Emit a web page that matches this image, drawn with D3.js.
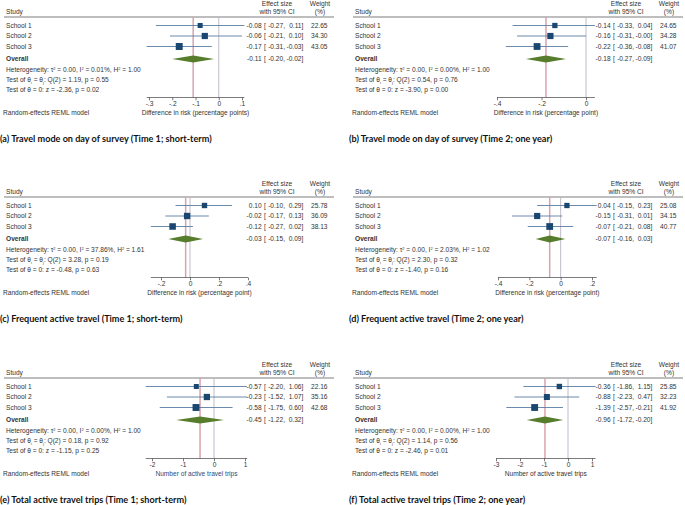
<!DOCTYPE html>
<html><head><meta charset="utf-8">
<script src="https://cdn.jsdelivr.net/npm/d3@7"></script>
<style>body{margin:0;background:#fff} svg{display:block}</style>
</head><body>
<svg id="c" width="685" height="505"></svg>
<script>
// ---------- data ----------
const captions = [
  "(a) Travel mode on day of survey (Time 1; short-term)",
  "(b) Travel mode on day of survey (Time 2; one year)",
  "(c) Frequent active travel (Time 1; short-term)",
  "(d) Frequent active travel (Time 2; one year)",
  "(e) Total active travel trips (Time 1; short-term)",
  "(f) Total active travel trips (Time 2; one year)"
];
const studies = ["School 1", "School 2", "School 3"];
const effects = [[-0.08,-0.06,-0.17],[-0.14,-0.16,-0.22],[0.10,-0.02,-0.12],[0.04,-0.15,-0.07],[-0.57,-0.23,-0.58],[-0.36,-0.88,-1.39]];
const lowers  = [[-0.27,-0.21,-0.31],[-0.33,-0.31,-0.36],[-0.10,-0.17,-0.27],[-0.15,-0.31,-0.21],[-2.20,-1.52,-1.75],[-1.86,-2.23,-2.57]];
const uppers  = [[0.11,0.10,-0.03],[0.04,-0.00,-0.08],[0.29,0.13,0.02],[0.23,0.01,0.08],[1.06,1.07,0.60],[1.15,0.47,-0.21]];
const weights = [[22.65,34.30,43.05],[24.65,34.28,41.07],[25.78,36.09,38.13],[25.08,34.15,40.77],[22.16,35.16,42.68],[25.85,32.23,41.92]];
const overallES = [-0.11,-0.18,-0.03,-0.07,-0.45,-0.96];
const overallLo = [-0.20,-0.27,-0.15,-0.16,-1.22,-1.72];
const overallHi = [-0.02,-0.09,0.09,0.03,0.32,-0.20];
const tau2 = [0.00,0.00,0.00,0.00,0.00,0.00];
const i2   = [0.01,0.00,37.86,2.03,0.00,0.00];
const h2   = [1.00,1.00,1.61,1.02,1.00,1.00];
const qStat = [1.19,0.54,3.28,2.30,0.18,1.14];
const qP    = [0.55,0.76,0.19,0.32,0.92,0.56];
const zStat = [-2.36,-3.90,-0.48,-1.40,-1.15,-2.46];
const zP    = [0.02,0.00,0.63,0.16,0.25,0.01];
const ticks = [[-0.3,-0.2,-0.1,0,0.1],[-0.4,-0.2,0],[-0.2,0,0.2,0.4],[-0.4,-0.2,0,0.2],[-2,-1,0,1],[-3,-2,-1,0,1]];
const tickLabels = [["-.3","-.2","-.1","0",".1"],["-.4","-.2","0"],["-.2","0",".2",".4"],["-.4","-.2","0",".2"],["-2","-1","0","1"],["-3","-2","-1","0","1"]];
const axisTitles = [
  "Difference in risk (percentage points)",
  "Difference in risk (percentage point)",
  "Difference in risk (percentage point)",
  "Difference in risk (percentage point)",
  "Number of active travel trips",
  "Number of active travel trips"
];

// ---------- layout ----------
const panelX = [0,349,0,349,0,349];
const panelY = [0,0,180,180,361,361];
const tickPx = [[149,242],[148,237],[161,248],[149,243],[152,245],[147,243]];
const FONT = "'Liberation Sans', Arial, sans-serif";
const FS = 6.6;
const TXT = "#333";
const rowY = [25.5, 36, 46.5];
const yRule = 17, yOverall = 59, yHet = [70, 80, 90], yAxis = 97.5;

const fmt = v => (v < 0 || Object.is(v, -0)) ? "-" + Math.abs(v).toFixed(2) : v.toFixed(2);

const svg = d3.select("#c");

captions.forEach((cap, k) => {
  const g = svg.append("g").attr("transform", `translate(${panelX[k]},${panelY[k]})`);
  const lo = d3.min([...lowers[k], ticks[k][0]]);
  const hi = d3.max([...uppers[k], ticks[k][ticks[k].length-1]]);
  const x = d3.scaleLinear().domain([ticks[k][0], ticks[k][ticks[k].length-1]]).range(tickPx[k]);

  const text = (tx, ty, s, anchor="start", opts={}) => g.append("text")
    .attr("x", tx).attr("y", ty + 2.3).attr("text-anchor", anchor)
    .attr("font-family", FONT).attr("font-size", opts.fs || FS)
    .attr("font-weight", opts.bold ? "bold" : "normal")
    .attr("fill", opts.fill || TXT).text(s);

  // header
  text(6, 12, "Study");
  text(277, 4, "Effect size", "middle");
  text(277, 12, "with 95% CI", "middle");
  text(320, 4, "Weight", "middle");
  text(320, 12, "(%)", "middle");
  g.append("line").attr("x1", 4).attr("x2", 334).attr("y1", yRule).attr("y2", yRule)
    .attr("stroke", "#a8a8a8").attr("stroke-width", 1.6);

  // reference lines
  g.append("line").attr("x1", x(0)).attr("x2", x(0)).attr("y1", yRule).attr("y2", yAxis)
    .attr("stroke", "#b8b4c4").attr("stroke-width", 0.9);
  g.append("line").attr("x1", x(overallES[k])).attr("x2", x(overallES[k])).attr("y1", yRule).attr("y2", yAxis)
    .attr("stroke", "#d9a3ae").attr("stroke-width", 1.5);

  const ciText = (y, es, l, u) => {
    text(261.6, y, fmt(es), "end");
    text(264, y, "[");
    text(283.2, y, fmt(l), "end");
    text(283.2, y, ",");
    text(301.5, y, fmt(u), "end");
    text(301.5, y, "]");
  };

  // studies
  studies.forEach((s, i) => {
    const y = rowY[i];
    text(6, y, s);
    g.append("line").attr("x1", x(lowers[k][i])).attr("x2", x(uppers[k][i]))
      .attr("y1", y).attr("y2", y).attr("stroke", "#5b7ea3").attr("stroke-width", 0.9);
    const side = 1.06 * Math.sqrt(weights[k][i]);
    g.append("rect").attr("x", x(effects[k][i]) - side/2).attr("y", y - side/2)
      .attr("width", side).attr("height", side).attr("fill", "#1a476f");
    ciText(y, effects[k][i], lowers[k][i], uppers[k][i]);
    text(327.5, y, weights[k][i].toFixed(2), "end");
  });

  // overall
  text(6, yOverall, "Overall", "start", {bold: true});
  const dh = 3.6;
  g.append("path").attr("d",
    `M${x(overallLo[k])},${yOverall} L${x(overallES[k])},${yOverall-dh} L${x(overallHi[k])},${yOverall} L${x(overallES[k])},${yOverall+dh} Z`)
    .attr("fill", "#567c2c");
  ciText(yOverall, overallES[k], overallLo[k], overallHi[k]);

  // heterogeneity lines
  const t1 = text(6, yHet[0], "");
  t1.append("tspan").text(`Heterogeneity: \u03C4`);
  t1.append("tspan").attr("font-size", FS*0.6).attr("dy", -2.4).text("2");
  t1.append("tspan").attr("dy", 2.4).text(` = ${tau2[k].toFixed(2)}, I`);
  t1.append("tspan").attr("font-size", FS*0.6).attr("dy", -2.4).text("2");
  t1.append("tspan").attr("dy", 2.4).text(` = ${i2[k].toFixed(2)}%, H`);
  t1.append("tspan").attr("font-size", FS*0.6).attr("dy", -2.4).text("2");
  t1.append("tspan").attr("dy", 2.4).text(` = ${h2[k].toFixed(2)}`);

  const t2 = text(6, yHet[1], "");
  t2.append("tspan").text("Test of \u03B8");
  t2.append("tspan").attr("font-size", FS*0.6).attr("dy", 1.2).text("i");
  t2.append("tspan").attr("dy", -1.2).text(" = \u03B8");
  t2.append("tspan").attr("font-size", FS*0.6).attr("dy", 1.2).text("j");
  t2.append("tspan").attr("dy", -1.2).text(`: Q(2) = ${qStat[k].toFixed(2)}, p = ${qP[k].toFixed(2)}`);

  text(6, yHet[2], `Test of \u03B8 = 0: z = ${fmt(zStat[k])}, p = ${zP[k].toFixed(2)}`);

  // x axis
  const ax = g.append("g").attr("transform", `translate(0,${yAxis})`);
  ax.append("line").attr("x1", x(lo)).attr("x2", x(hi)).attr("stroke", "#444").attr("stroke-width", 0.7);
  const axis = d3.axisBottom(x).tickValues(ticks[k]).tickFormat((d, j) => tickLabels[k][j])
    .tickSize(2.8).tickPadding(1.2);
  ax.call(axis);
  ax.select(".domain").remove();
  ax.selectAll(".tick line").attr("stroke", "#444").attr("stroke-width", 0.7);
  ax.selectAll(".tick text").attr("font-family", FONT).attr("font-size", FS).attr("fill", TXT);

  text((x(lo) + x(hi)) / 2, 113, axisTitles[k], "middle", {fill: k === 4 ? "#2c4a78" : TXT});
  text(3, 113, "Random-effects REML model");

  // caption
  g.append("text").attr("x", 0).attr("y", 142).attr("font-family", "Lato, 'Open Sans', sans-serif")
    .attr("font-weight", "bold").attr("font-size", 9.1).attr("fill", "#111").text(cap);
});
</script>
</body></html>
